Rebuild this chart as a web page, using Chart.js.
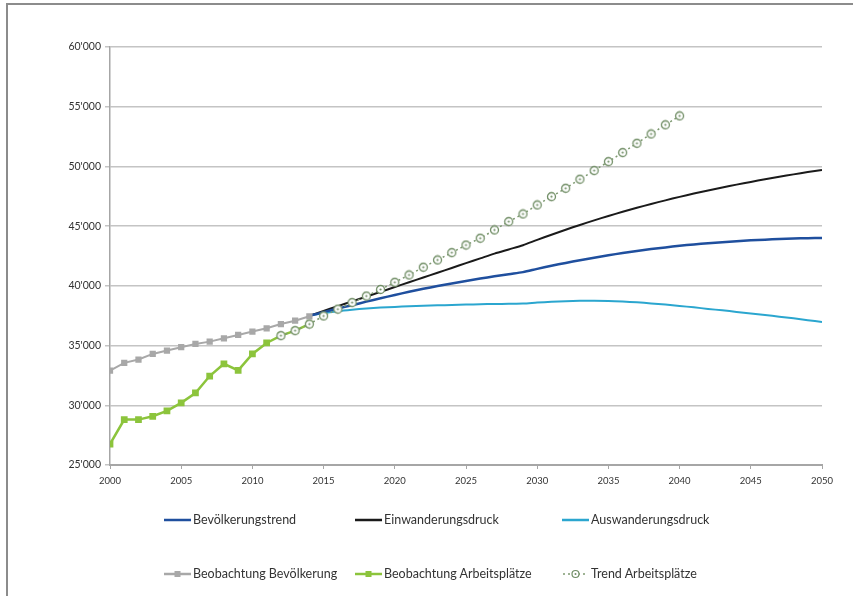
<!DOCTYPE html>
<html lang="de">
<head>
  <meta charset="UTF-8" />
  <title>Bevölkerung und Arbeitsplätze 2000–2050</title>
  <script src="https://cdn.jsdelivr.net/npm/chart.js"></script>
  <style>
    body {
      margin: 0;
      background: #fff;
      font-family: Lato, 'Open Sans', sans-serif;
    }
    .wrap {
      position: relative;
      width: 853px;
      height: 596px;
      overflow: hidden;
    }
    .frame {
      position: absolute;
      left: 6px;
      top: 3px;
      width: 900px;
      height: 700px;
      border-left: 2px solid #8c8c8c;
      border-top: 2px solid #8c8c8c;
      pointer-events: none;
    }
    canvas { position: absolute; left: 0; top: 0; }
    .legend {
      position: absolute;
      left: 0;
      top: 0;
      width: 853px;
      height: 596px;
      pointer-events: none;
    }
    .item {
      position: absolute;
      display: flex;
      align-items: center;
      font-size: 12.5px;
      color: #333;
      white-space: nowrap;
    }
    .item svg { margin-right: 2px; }
  </style>
</head>
<body>
  <div class="wrap">
    <canvas id="chart" width="853" height="596"></canvas>
    <div class="frame"></div>
    <div class="legend" id="legend"></div>
  </div>

  <script>
    // Beobachtungen 2000-2014
    const obsYears = [2000, 2001, 2002, 2003, 2004, 2005, 2006, 2007, 2008, 2009, 2010, 2011, 2012, 2013, 2014];
    const beobBevoelkerung = [32900, 33550, 33830, 34300, 34580, 34860, 35140, 35330, 35610, 35890, 36170, 36450, 36800, 37080, 37450];
    const beobArbeitsplaetze = [26750, 28800, 28800, 29080, 29530, 30200, 31030, 32450, 33470, 32920, 34300, 35220, 35830, 36250, 36800];

    // Trend Arbeitsplätze 2012-2040
    const trendYears = [2012, 2013, 2014, 2015, 2016, 2017, 2018, 2019, 2020, 2021, 2022, 2023, 2024, 2025, 2026,
      2027, 2028, 2029, 2030, 2031, 2032, 2033, 2034, 2035, 2036, 2037, 2038, 2039, 2040];
    const trendArbeitsplaetze = [35830, 36250, 36800, 37480, 38050, 38600, 39150, 39700, 40300, 40910, 41560, 42170,
      42780, 43420, 43990, 44680, 45380, 46020, 46775, 47470, 48170, 48930, 49650, 50400, 51160, 51940, 52720, 53480, 54230];

    // Szenarien 2014-2050
    const scenYears = [2014, 2015, 2016, 2017, 2018, 2019, 2020, 2021, 2022, 2023, 2024, 2025, 2026, 2027, 2028, 2029,
      2030, 2031, 2032, 2033, 2034, 2035, 2036, 2037, 2038, 2039, 2040, 2041, 2042, 2043, 2044, 2045, 2046, 2047,
      2048, 2049, 2050];
    const bevoelkerungstrend = [37500, 37800, 38100, 38380, 38680, 38960, 39240, 39500, 39750, 39980, 40200, 40410,
      40610, 40800, 40980, 41150, 41420, 41680, 41920, 42140, 42360, 42560, 42750, 42920, 43080, 43220, 43350, 43470,
      43570, 43660, 43740, 43810, 43870, 43920, 43960, 43990, 44010];
    const einwanderungsdruck = [37500, 37900, 38300, 38700, 39100, 39500, 39900, 40300, 40700, 41100, 41500, 41900,
      42300, 42700, 43050, 43400, 43850, 44280, 44700, 45100, 45485, 45850, 46200, 46535, 46855, 47160, 47450, 47725,
      47985, 48235, 48475, 48705, 48925, 49135, 49335, 49525, 49705];
    const auswanderungsdruck = [37500, 37720, 37880, 38000, 38100, 38180, 38240, 38290, 38330, 38370, 38400, 38430,
      38460, 38480, 38500, 38520, 38600, 38670, 38720, 38750, 38760, 38740, 38690, 38620, 38530, 38430, 38320, 38200,
      38070, 37950, 37820, 37690, 37560, 37420, 37280, 37130, 36980];

    const yMin = 25000, yMax = 60000, yStep = 5000;
    const xMin = 2000, xMax = 2050, xStep = 5;

    function toPoints(xs, ys) {
      return xs.map((x, i) => ({ x: x, y: ys[i] }));
    }

    function fmt(v) {
      return String(Math.round(v / 1000)) + "'000";
    }

    // Kreis mit Punkt als Marker
    function ringMarker() {
      const c = document.createElement('canvas');
      c.width = 11; c.height = 11;
      const g = c.getContext('2d');
      g.fillStyle = '#fff';
      g.strokeStyle = '#718e66';
      g.lineWidth = 1.3;
      g.beginPath(); g.arc(5.5, 5.5, 4, 0, Math.PI * 2); g.fill(); g.stroke();
      g.fillStyle = '#718e66';
      g.beginPath(); g.arc(5.5, 5.5, 1.1, 0, Math.PI * 2); g.fill();
      return c;
    }

    const datasets = [
      { label: 'Trend Arbeitsplätze', data: toPoints(trendYears, trendArbeitsplaetze), borderColor: '#7f9a72',
        borderWidth: 1.5, borderDash: [2, 3], pointStyle: ringMarker(), pointRadius: 5, tension: 0 },
      { label: 'Beobachtung Arbeitsplätze', data: toPoints(obsYears, beobArbeitsplaetze), borderColor: '#8cc43c',
        backgroundColor: '#8cc43c', borderWidth: 2.5, pointStyle: 'rect', pointRadius: 3, tension: 0 },
      { label: 'Beobachtung Bevölkerung', data: toPoints(obsYears, beobBevoelkerung), borderColor: '#a8a8a8',
        backgroundColor: '#a8a8a8', borderWidth: 2, pointStyle: 'rect', pointRadius: 3, tension: 0 },
      { label: 'Bevölkerungstrend', data: toPoints(scenYears, bevoelkerungstrend), borderColor: '#1f4f9e',
        borderWidth: 2.5, pointRadius: 0, tension: 0.3 },
      { label: 'Einwanderungsdruck', data: toPoints(scenYears, einwanderungsdruck), borderColor: '#1a1a1a',
        borderWidth: 2, pointRadius: 0, tension: 0.3 },
      { label: 'Auswanderungsdruck', data: toPoints(scenYears, auswanderungsdruck), borderColor: '#2ba6cf',
        borderWidth: 2, pointRadius: 0, tension: 0.3 }
    ];

    new Chart(document.getElementById('chart'), {
      type: 'line',
      data: { datasets: datasets },
      options: {
        responsive: false,
        animation: false,
        layout: { padding: { left: 0, right: 31, top: 47, bottom: 101 } },
        plugins: { legend: { display: false }, tooltip: { enabled: false } },
        scales: {
          x: {
            type: 'linear',
            min: xMin, max: xMax,
            afterFit: s => { s.height = 30; },
            ticks: { stepSize: xStep, color: '#333', font: { family: 'Lato', size: 9.5 }, padding: 6,
              callback: v => String(v) },
            grid: { drawOnChartArea: false, drawTicks: true, tickLength: 4, color: '#a6a6a6' },
            border: { color: '#a6a6a6', width: 2 }
          },
          y: {
            min: yMin, max: yMax,
            afterFit: s => { s.width = 110; },
            ticks: { stepSize: yStep, color: '#333', font: { family: 'Lato', size: 10.5 }, padding: 4,
              callback: v => fmt(v) },
            grid: { color: '#c4c4c4', lineWidth: 1.5, tickLength: 5 },
            border: { color: '#a6a6a6', width: 1.5 }
          }
        }
      }
    });

    // Legende: zwei Zeilen, drei Spalten
    const legendRows = [
      ['Bevölkerungstrend', 'Einwanderungsdruck', 'Auswanderungsdruck'],
      ['Beobachtung Bevölkerung', 'Beobachtung Arbeitsplätze', 'Trend Arbeitsplätze']
    ];
    const colLeft = [164, 355, 562];
    const rowTop = [521, 575];

    function sample(ds) {
      const c = ds.borderColor;
      let s = '<svg width="27" height="10">';
      if (ds.borderDash) {
        s += '<line x1="1" y1="5" x2="26" y2="5" stroke="' + c + '" stroke-width="1.5" stroke-dasharray="2 3"/>';
        s += '<circle cx="13.5" cy="5" r="3.5" fill="#fff" stroke="#718e66" stroke-width="1.2"/>';
        s += '<circle cx="13.5" cy="5" r="1" fill="#718e66"/>';
      } else {
        s += '<line x1="0" y1="5" x2="27" y2="5" stroke="' + c + '" stroke-width="2.5"/>';
        if (ds.pointStyle === 'rect') s += '<rect x="10.5" y="2" width="6" height="6" fill="' + c + '"/>';
      }
      return s + '</svg>';
    }

    const legend = document.getElementById('legend');
    legendRows.forEach((row, r) => {
      row.forEach((name, i) => {
        const ds = datasets.find(d => d.label === name);
        const el = document.createElement('div');
        el.className = 'item';
        el.style.left = colLeft[i] + 'px';
        el.style.top = (rowTop[r] - 9) + 'px';
        el.innerHTML = sample(ds) + '<span>' + name + '</span>';
        legend.appendChild(el);
      });
    });
  </script>
</body>
</html>
